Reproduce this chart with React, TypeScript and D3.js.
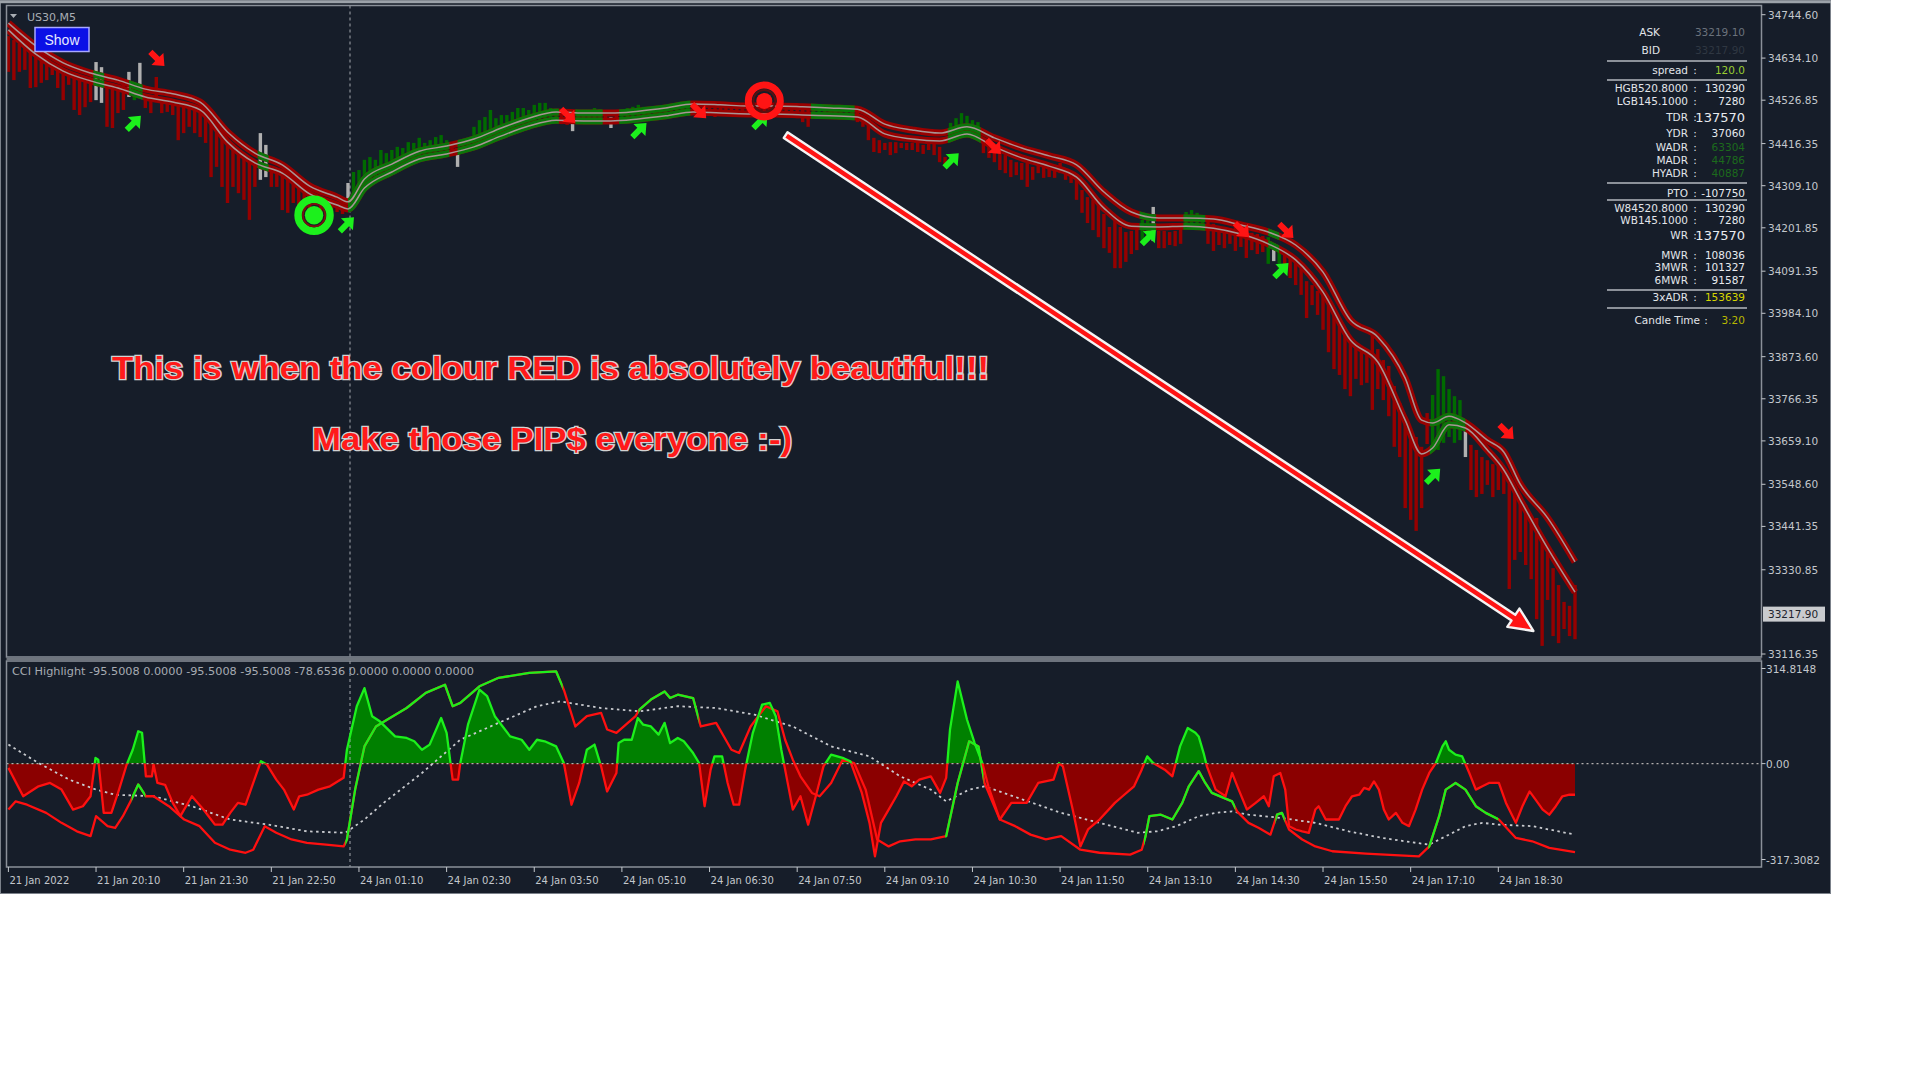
import React from "react";
import * as d3 from "d3";

// ---------------- DATA ----------------
const symbol = "US30,M5";
const priceTicks = [34744.6, 34634.1, 34526.85, 34416.35, 34309.1, 34201.85, 34091.35, 33984.1, 33873.6, 33766.35, 33659.1, 33548.6, 33441.35, 33330.85, 33116.35];
const currentPrice = 33217.9;
const priceDomain = [33116.35, 34744.6];
const cciDomain = [-317.3082, 314.8148];
const cciTickLabels = [
  { v: 314.8148, t: "314.8148" },
  { v: 0, t: "0.00" },
  { v: -317.3082, t: "-317.3082" },
];
const cciTitle = "CCI Highlight -95.5008 0.0000 -95.5008 -95.5008 -78.6536 0.0000 0.0000 0.0000";
const timeLabels = ["21 Jan 2022", "21 Jan 20:10", "21 Jan 21:30", "21 Jan 22:50", "24 Jan 01:10", "24 Jan 02:30", "24 Jan 03:50", "24 Jan 05:10", "24 Jan 06:30", "24 Jan 07:50", "24 Jan 09:10", "24 Jan 10:30", "24 Jan 11:50", "24 Jan 13:10", "24 Jan 14:30", "24 Jan 15:50", "24 Jan 17:10", "24 Jan 18:30"];
const barsPerLabel = 16;
const lastBar = 286;
const weekOpenBar = 62;

const barHigh = [
  34690,34680,34670,34660,34655,34642,34629,34622,34614,34609,
  34604,34599,34594,34588,34583,34578,34624,34611,34568,34563,
  34558,34566,34599,34553,34622,34540,34537,34586,34530,34527,
  34525,34520,34517,34512,34507,34502,34497,34476,34461,34446,
  34425,34413,34400,34390,34380,34369,34443,34413,34359,34354,
  34344,34334,34324,34313,34303,34293,34285,34278,34273,34267,
  34262,34257,34316,34344,34349,34375,34382,34375,34400,34392,
  34400,34408,34405,34420,34418,34431,34418,34425,34433,34438,
  34425,34408,34405,34425,34431,34459,34476,34484,34502,34481,
  34489,34489,34497,34507,34507,34502,34515,34520,34520,34507,
  34502,34502,34497,34487,34494,34502,34502,34507,34504,34492,
  34484,34492,34502,34507,34510,34515,34510,34507,34512,34510,
  34512,34510,34517,34520,34512,34515,34512,34515,34512,34515,
  34512,34510,34512,34515,34510,34512,34510,34512,34515,34510,
  34512,34510,34507,34510,34507,34507,34502,34510,34512,34510,
  34512,34510,34507,34510,34507,34497,34476,34464,34431,34425,
  34418,34420,34420,34418,34418,34418,34418,34413,34418,34418,
  34408,34382,34469,34481,34494,34487,34476,34471,34418,34413,
  34408,34392,34387,34375,34369,34367,34367,34357,34367,34362,
  34367,34357,34367,34349,34341,34324,34298,34280,34273,34260,
  34237,34204,34222,34204,34191,34194,34201,34222,34234,34255,
  34194,34194,34191,34194,34201,34242,34247,34240,34234,34222,
  34212,34206,34204,34201,34204,34199,34194,34189,34186,34181,
  34178,34161,34150,34140,34125,34115,34099,34066,34056,34041,
  34031,34023,33987,33954,33936,33919,33901,33896,33893,33929,
  33893,33865,33850,33799,33756,33722,33687,33669,33644,33730,
  33776,33842,33824,33791,33773,33763,33687,33649,33636,33618,
  33610,33600,33595,33590,33549,33534,33506,33496,33463,33463,
  33419,33376,33335,33292,33249,33239,33292,
];
const barLow = [
  34599,34578,34599,34604,34558,34560,34571,34578,34591,34558,
  34527,34566,34502,34489,34509,34522,34527,34520,34459,34456,
  34494,34502,34535,34527,34560,34507,34494,34527,34494,34497,
  34489,34425,34443,34459,34443,34433,34418,34331,34357,34306,
  34265,34306,34290,34273,34222,34306,34324,34331,34306,34306,
  34247,34240,34265,34255,34247,34234,34260,34242,34257,34247,
  34242,34237,34273,34273,34283,34298,34308,34316,34324,34334,
  34341,34349,34354,34362,34367,34375,34377,34380,34382,34385,
  34387,34387,34357,34397,34400,34405,34410,34415,34423,34428,
  34433,34438,34443,34448,34453,34459,34461,34464,34469,34471,
  34474,34466,34464,34448,34474,34474,34474,34476,34476,34471,
  34456,34471,34479,34479,34481,34481,34481,34484,34484,34487,
  34487,34489,34492,34494,34494,34492,34487,34494,34489,34484,
  34492,34487,34494,34489,34484,34492,34489,34481,34492,34487,
  34494,34484,34489,34487,34481,34471,34459,34481,34484,34487,
  34484,34487,34484,34481,34481,34471,34459,34425,34395,34392,
  34400,34387,34392,34405,34400,34400,34395,34390,34400,34387,
  34369,34362,34425,34431,34438,34441,34441,34436,34392,34380,
  34369,34349,34341,34331,34336,34324,34306,34324,34341,34329,
  34331,34329,34341,34324,34316,34273,34240,34214,34196,34178,
  34150,34138,34099,34099,34115,34135,34145,34168,34171,34168,
  34150,34150,34158,34155,34161,34206,34211,34209,34206,34161,
  34143,34158,34150,34161,34143,34153,34125,34145,34135,34140,
  34110,34117,34099,34089,34074,34056,34031,33972,34005,33980,
  33942,33885,33842,33827,33791,33773,33817,33801,33807,33738,
  33791,33763,33722,33644,33618,33488,33458,33430,33488,33651,
  33636,33636,33654,33669,33654,33661,33618,33534,33516,33524,
  33547,33516,33534,33524,33282,33356,33376,33343,33307,33205,
  33137,33254,33162,33144,33180,33162,33154,
];
const grayBars = [16, 17, 22, 24, 46, 47, 62, 82, 103, 110, 209, 231, 266];
const trendGreen = [[15.5, 17.5], [22, 24.5], [45.5, 47.5], [62, 80.5], [82, 100.5], [103.5, 108.5], [111.5, 124.5], [146.5, 154.5], [171.5, 177.5], [206.5, 209.5], [214.5, 218.5], [230, 232], [259.5, 266]];

const tubeIndex = [0,5,10,15,20,25,30,35,40,45,50,55,60,62,65,70,75,80,85,90,95,100,105,110,115,120,125,130,135,140,145,150,155,160,165,170,175,180,185,190,195,200,205,210,215,220,225,230,235,240,245,250,255,258,260,263,266,270,273,276,281,286];
const tubeUpper = [34723,34665,34622,34596,34578,34555,34543,34522,34446,34392,34362,34308,34280,34268,34326,34364,34397,34410,34428,34456,34481,34497,34494,34494,34499,34507,34517,34515,34512,34512,34510,34507,34504,34466,34451,34443,34459,34431,34405,34385,34362,34293,34242,34227,34227,34224,34209,34191,34158,34089,33967,33924,33819,33712,33705,33722,33705,33661,33631,33549,33463,33351];
const tubeLower = [34706,34644,34601,34576,34558,34535,34522,34502,34420,34367,34341,34288,34260,34250,34303,34344,34377,34390,34408,34436,34461,34476,34474,34474,34479,34487,34497,34494,34492,34492,34489,34487,34484,34441,34428,34423,34441,34408,34380,34359,34331,34252,34206,34204,34206,34201,34186,34161,34120,34038,33916,33860,33712,33626,33641,33700,33692,33636,33585,33509,33386,33274];

const downArrows = [[27.2, 34632], [102.2, 34487], [126.1, 34499], [179.9, 34408], [225.2, 34196], [233.3, 34194], [273.5, 33682]];
const upArrows = [[22.9, 34469], [61.8, 34211], [115.2, 34451], [137.3, 34474], [172.2, 34374], [208.2, 34178], [232.4, 34094], [260.1, 33570]];
const buyCircle = [55.8, 34234];
const sellCircle = [138, 34525];
const bigArrow = { from: [141.9, 34438], to: [278.4, 33175] };
const note1 = "This is when the colour RED is absolutely beautiful!!!";
const note2 = "Make those PIP$ everyone :-)";

const cciFast = [[0,-14],[2.7,-108],[5.5,-75],[7.6,-64],[9.7,-86],[11.8,-152],[13.6,-141],[15,-108],[15.9,19],[16.4,13],[17.4,-163],[18.8,-163],[20.2,-86],[21.6,-3],[22.7,46],[23.7,107],[24.4,102],[25.1,-42],[26.2,-42],[26.5,-3],[27.2,-64],[28.6,-70],[30,-130],[31.4,-174],[33.5,-108],[35.6,-152],[37.7,-202],[39.1,-202],[40.5,-163],[41.9,-130],[43.3,-136],[44.7,-64],[46.1,8],[47.2,-3],[48.9,-53],[50.3,-86],[52.1,-152],[53.1,-108],[54.5,-103],[56.6,-86],[58.7,-75],[61.2,-47],[61.8,46],[63.6,190],[65,250],[66.4,157],[67.8,140],[70.6,90],[72.7,85],[74.1,74],[75.5,46],[76.9,63],[79,151],[80,102],[81.1,-53],[82.1,-53],[82.5,2],[83.9,129],[86,245],[87.4,223],[88.8,157],[91.6,90],[93.7,79],[95.1,46],[96.5,79],[97.9,74],[100,57],[101.4,2],[102.8,-136],[104.2,-64],[105.6,46],[107,63],[108.2,-9],[109.3,-92],[111,-31],[111.4,68],[112.4,79],[113.8,79],[114.9,151],[115.9,129],[117.3,123],[118.7,96],[119.8,135],[120.8,68],[122.2,85],[123.3,74],[125,35],[126.1,2],[127.1,-141],[128.2,-20],[128.9,24],[130.3,24],[131.3,-64],[132.4,-136],[133.4,-136],[134.5,-20],[135.9,102],[137.6,195],[139,201],[140.1,157],[141.1,46],[142.5,-86],[143.2,-152],[144.6,-108],[146,-202],[147.4,-108],[148.8,-9],[150.2,30],[152.3,19],[153.7,8],[155.8,-97],[157.2,-196],[158.2,-307],[159.3,-196],[160.7,-152],[162.1,-108],[163.5,-59],[164.9,-75],[166.3,-53],[168.4,-42],[170.1,-97],[171.2,-47],[171.9,113],[173.3,272],[175,146],[176.4,68],[177.8,2],[178.9,-75],[181,-185],[183.1,-130],[185.9,-130],[188,-64],[190.8,-53],[191.8,2],[192.5,-9],[194.3,-152],[195.7,-274],[197.1,-218],[199.2,-185],[202,-130],[203.4,-108],[205.5,-75],[206.9,-20],[207.9,24],[209,2],[211.1,-20],[212.5,-42],[213.9,57],[215.3,118],[216.7,102],[217.3,90],[218.2,35],[218.8,-9],[220.4,-86],[222.2,-108],[223.4,-31],[224.6,-86],[226.1,-152],[227.7,-130],[229.2,-108],[230.1,-141],[231,-42],[232.2,-31],[233.1,-86],[233.8,-207],[235,-218],[236.2,-224],[237.4,-229],[238.6,-152],[239.2,-141],[240.5,-185],[242.9,-185],[244.1,-141],[245.3,-108],[246.6,-103],[247.5,-80],[248.4,-86],[249.3,-59],[250.2,-86],[251.1,-152],[252,-185],[253.3,-163],[254.5,-196],[255.7,-207],[256.9,-152],[258.1,-86],[259.4,-31],[260.6,2],[261.8,57],[262.4,74],[263,46],[264.2,30],[265.4,24],[266.7,-31],[267.9,-86],[269.1,-75],[270.3,-64],[272.1,-64],[273.4,-130],[274.6,-174],[275.2,-196],[276.4,-141],[277.7,-92],[278.8,-119],[280.1,-152],[281.3,-169],[282.5,-141],[283.7,-108],[285,-103],[286,-103]];
const cciSlow = [[0,-152],[1.3,-125],[3.4,-136],[6.9,-163],[9.7,-196],[12.5,-224],[15,-240],[16,-174],[18.1,-207],[19.5,-213],[20.9,-174],[22.3,-125],[23.7,-69],[25.1,-108],[26.5,-108],[29.3,-141],[32.1,-185],[34.9,-207],[37.7,-262],[40.5,-285],[43.3,-295],[44.7,-285],[46.8,-207],[48.9,-229],[51.7,-251],[54.5,-262],[58,-268],[61.2,-274],[61.8,-251],[63.3,-86],[65,57],[67.1,123],[69.2,146],[72.7,184],[76.2,234],[79.7,261],[81.1,190],[82.5,201],[86,256],[89.5,284],[95.1,300],[100,305],[101.4,245],[103.5,123],[105.6,157],[108.2,168],[109.3,113],[111,102],[114.5,157],[115.2,179],[117.3,212],[119.8,239],[120.8,217],[122.2,228],[125,217],[126.4,123],[129.2,135],[132,46],[133.4,35],[135.5,123],[136.9,157],[138.3,190],[140.4,173],[141.8,79],[143.2,13],[144.6,-42],[146.7,-97],[148.1,-108],[150.2,-64],[152.3,13],[154.4,2],[156.5,-86],[158.6,-251],[160.7,-274],[162.8,-257],[165.6,-251],[168.4,-251],[171.2,-240],[173.3,-64],[175.4,74],[177.1,57],[178.2,-64],[181,-185],[183.8,-207],[186.6,-235],[189.4,-251],[192.2,-240],[195.7,-285],[199.2,-295],[204.8,-301],[206.9,-285],[207.6,-240],[208.3,-174],[210.4,-169],[212.5,-185],[214.3,-130],[215.5,-75],[217.3,-25],[218.5,-64],[219.7,-97],[223.4,-125],[224.3,-158],[226.4,-196],[228.3,-213],[230.4,-235],[231.6,-169],[232.5,-163],[233.8,-218],[236.2,-251],[238.6,-274],[241.7,-290],[247.8,-298],[257.5,-307],[259.4,-274],[261.2,-174],[262.4,-86],[264.2,-64],[266,-86],[267.9,-141],[269.7,-163],[272.1,-185],[275.2,-246],[278.2,-257],[281.3,-279],[286,-293]];
const cciSignal = [[0,63],[5.5,2],[11.1,-53],[16,-86],[19.5,-103],[26.5,-108],[33.5,-141],[40.5,-185],[47.5,-202],[54.5,-224],[61.5,-229],[65,-185],[68.5,-130],[75.5,-31],[82.5,79],[89.5,135],[96.5,190],[100.7,206],[108.2,184],[115.2,173],[122.2,190],[129.2,184],[136.2,162],[143.2,123],[150.2,57],[157.2,24],[162.8,-42],[168.4,-86],[171.2,-125],[175.4,-86],[178.2,-75],[185.2,-119],[192.2,-163],[199.2,-196],[206.2,-229],[209.7,-224],[213.2,-207],[217.3,-174],[220.4,-163],[223.4,-158],[226.4,-169],[232.5,-180],[238.6,-196],[244.7,-224],[250.8,-246],[256.9,-262],[259.4,-268],[263,-235],[266,-207],[269.1,-196],[272.1,-202],[278.2,-207],[286,-235]];
const slowGreen = [[22.5, 25], [61.5, 101.2], [115, 126], [171, 178], [207.3, 224], [231.3, 233], [259.2, 272]];

// info panel rows (text as it appears in the terminal's overlay)
const infoRows = [
  { label: "ASK", value: "33219.10", vc: "#6b727c", noColon: true },
  { label: "BID", value: "33217.90", vc: "#2f3742", noColon: true },
  { label: "spread", value: "120.0", vc: "#9acd32" },
  { label: "HGB520.8000", value: "130290" },
  { label: "LGB145.1000", value: "7280" },
  { label: "TDR", value: "137570", big: true },
  { label: "YDR", value: "37060" },
  { label: "WADR", value: "63304", vc: "#1c6a1c" },
  { label: "MADR", value: "44786", vc: "#1c6a1c" },
  { label: "HYADR", value: "40887", vc: "#1c6a1c" },
  { label: "PTO", value: "-107750" },
  { label: "W84520.8000", value: "130290" },
  { label: "WB145.1000", value: "7280" },
  { label: "WR", value: "137570", big: true },
  { label: "MWR", value: "108036" },
  { label: "3MWR", value: "101327" },
  { label: "6MWR", value: "91587" },
  { label: "3xADR", value: "153639", vc: "#d6d600" },
  { label: "Candle Time", value: "3:20", vc: "#b8b800" },
];
// layout (pixel rows) of the info panel
const infoRowY = [32, 50, 70, 88, 101, 117, 133, 147, 160, 173, 193, 208, 220, 235, 255, 267, 280, 297, 320];
const infoSepY = [61, 80, 183, 200, 290, 308];

// ---------------- COMPONENT ----------------
const BG = "#161d29";
const FRAME = "#8a9099";
const FONT = "'DejaVu Sans', 'Noto Sans', sans-serif";

function inRanges(i: number, ranges: number[][]) {
  return ranges.some(([a, b]) => i >= a && i <= b);
}

export default function App() {
  const x = d3.scaleLinear().domain([0, lastBar]).range([8.4, 1575]);
  const y = d3.scaleLinear().domain(priceDomain).range([654, 14.7]);
  const yc = d3.scaleLinear().domain(cciDomain).range([859.5, 668.5]);

  const mainL = 6.5, mainR = 1761.5, mainT = 5.5, mainB = 657;
  const cciT = 661, cciB = 867;
  const zeroY = yc(0);

  const tubePath = (vals: number[]) =>
    d3.line<number>().x((_, k) => x(tubeIndex[k])).y((v) => y(v)).curve(d3.curveMonotoneX)(vals) as string;

  const cciLine = d3.line<number[]>().x((d) => x(d[0])).y((d) => yc(d[1]));
  const cciArea = d3.area<number[]>().x((d) => x(d[0])).y0(zeroY).y1((d) => yc(d[1]));

  const arrowShape = "M-10,-3 L0,-3 L0,-8.5 L10,0 L0,8.5 L0,3 L-10,3 Z";

  // big arrow polygon
  const ax0 = x(bigArrow.from[0]), ay0 = y(bigArrow.from[1]);
  const ax1 = x(bigArrow.to[0]), ay1 = y(bigArrow.to[1]);
  const dx = ax1 - ax0, dy = ay1 - ay0, len = Math.hypot(dx, dy);
  const ux = dx / len, uy = dy / len, nx = -uy, ny = ux;
  const sw = 3.4, hl = 24, hw = 11;
  const bx = ax1 - ux * hl, by = ay1 - uy * hl;
  const bigPts = [
    [ax0 + nx * sw, ay0 + ny * sw], [bx + nx * sw, by + ny * sw], [bx + nx * hw, by + ny * hw],
    [ax1, ay1], [bx - nx * hw, by - ny * hw], [bx - nx * sw, by - ny * sw], [ax0 - nx * sw, ay0 - ny * sw],
  ].map((p) => p.join(",")).join(" ");

  const bars = barHigh.map((h, i) => {
    const l = barLow[i];
    const color = grayBars.includes(i) ? "#b0b0b0" : inRanges(i, trendGreen) ? "#006b00" : "#960000";
    return { i, h, l, color };
  });

  const labelX = 1688, colonX = 1695, valueX = 1745;

  return (
    <div style={{ position: "absolute", left: 0, top: 0 }}>
      <svg width={1920} height={1080} style={{ display: "block", background: "#ffffff" }}>
        <defs>
          <clipPath id="mainClip"><rect x={mainL} y={mainT} width={mainR - mainL} height={mainB - mainT} /></clipPath>
          <clipPath id="cciClip"><rect x={mainL} y={cciT} width={mainR - mainL} height={cciB - cciT} /></clipPath>
          <clipPath id="trendG">
            {trendGreen.map(([a, b], k) => (
              <rect key={k} x={x(a)} y={0} width={x(b) - x(a)} height={660} />
            ))}
          </clipPath>
          <clipPath id="slowG">
            {slowGreen.map(([a, b], k) => (
              <rect key={k} x={x(a)} y={cciT} width={x(b) - x(a)} height={cciB - cciT} />
            ))}
          </clipPath>
          <clipPath id="cciAbove"><rect x={mainL} y={cciT} width={mainR - mainL} height={zeroY - cciT} /></clipPath>
          <clipPath id="cciBelow"><rect x={mainL} y={zeroY} width={mainR - mainL} height={cciB - zeroY} /></clipPath>
        </defs>

        {/* background panel */}
        <rect x={0.5} y={0.5} width={1830} height={893} fill={BG} stroke="#7b818a" strokeWidth={1} />
        <line x1={0} x2={1831} y1={2} y2={2} stroke="#9ca2a9" strokeWidth={2.5} />

        {/* ===== MAIN PANE ===== */}
        <g clipPath="url(#mainClip)">
          {/* period separator */}
          <line x1={x(weekOpenBar) + 2} x2={x(weekOpenBar) + 2} y1={mainT} y2={mainB} stroke="#a3a8ae" strokeDasharray="3,3" strokeWidth={1} />
          {/* bars */}
          {bars.map((b) => (
            <rect key={b.i} x={x(b.i) - 1.7} y={y(b.h)} width={3.4} height={Math.max(1.5, y(b.l) - y(b.h))} fill={b.color} />
          ))}
          {/* tubes */}
          {[tubeUpper, tubeLower].map((vals, k) => (
            <g key={k}>
              <path d={tubePath(vals)} fill="none" stroke="#9a0000" strokeWidth={7} strokeLinejoin="round" />
              <path d={tubePath(vals)} fill="none" stroke="#0a760a" strokeWidth={7} clipPath="url(#trendG)" />
            </g>
          ))}
          {[tubeUpper, tubeLower].map((vals, k) => (
            <path key={"c" + k} d={tubePath(vals)} fill="none" stroke="#a89494" strokeWidth={1.5} />
          ))}
          {/* signal arrows */}
          {downArrows.map((a, k) => (
            <path key={"d" + k} d={arrowShape} fill="#ff1414" transform={`translate(${x(a[0])},${y(a[1])}) rotate(45)`} />
          ))}
          {upArrows.map((a, k) => (
            <path key={"u" + k} d={arrowShape} fill="#1cf01c" transform={`translate(${x(a[0])},${y(a[1])}) rotate(-45)`} />
          ))}
          {/* circles */}
          <g transform={`translate(${x(buyCircle[0])},${y(buyCircle[1])})`}>
            <circle r={16} fill="none" stroke="#1cf01c" strokeWidth={7.5} />
            <circle r={11.2} fill="none" stroke="#7a1010" strokeWidth={1.6} />
            <circle r={9.2} fill="#1cf01c" />
          </g>
          <g transform={`translate(${x(sellCircle[0])},${y(sellCircle[1])})`}>
            <circle r={16} fill="none" stroke="#ff1414" strokeWidth={7} />
            <circle r={11} fill="none" stroke="#5a1010" strokeWidth={2} />
            <circle r={8} fill="#ff1414" />
          </g>
          {/* big arrow */}
          <polygon points={bigPts} fill="#ff1414" stroke="#f4f4f4" strokeWidth={2.4} strokeLinejoin="round" />
          {/* annotations */}
          <g fontFamily="'Liberation Sans', Arial, sans-serif" fontWeight="bold" fontSize={32} fill="#ff1a1a" stroke="#d2d2d2" strokeWidth={2.6} style={{ paintOrder: "stroke" }}>
            <text x={112} y={379} textLength={877} lengthAdjust="spacingAndGlyphs">{note1}</text>
            <text x={312} y={450} textLength={480} lengthAdjust="spacingAndGlyphs">{note2}</text>
          </g>
        </g>
        <rect x={mainL} y={mainT} width={mainR - mainL} height={mainB - mainT} fill="none" stroke={FRAME} strokeWidth={1.5} />

        {/* top-left symbol + show button */}
        <path d="M10,14 L17,14 L13.5,18 Z" fill="#a9aeb4" />
        <text x={27} y={21} fontFamily={FONT} fontSize={11} fill="#a9aeb4">{symbol}</text>
        <rect x={35} y={27.5} width={54} height={24} fill="#0b10e6" stroke="#a8a8ff" strokeWidth={1.5} />
        <text x={62} y={44.5} textAnchor="middle" fontFamily="'Liberation Sans', Arial, sans-serif" fontSize={14} fill="#e6e8ff">Show</text>

        {/* info panel */}
        <g fontFamily={FONT} fontSize={10.5} fill="#e2e5ea">
          {infoSepY.map((sy, k) => (
            <line key={k} x1={1607} x2={1747} y1={sy} y2={sy} stroke="#b5b9bf" strokeWidth={1.6} />
          ))}
          {infoRows.map((r, k) => {
            const ry = infoRowY[k] + 4;
            const isCandle = r.label === "Candle Time";
            if (r.noColon) {
              return (
                <g key={k}>
                  <text x={1660} y={ry} textAnchor="end">{r.label}</text>
                  <text x={valueX} y={ry} textAnchor="end" fill={r.vc}>{r.value}</text>
                </g>
              );
            }
            return (
              <g key={k}>
                <text x={isCandle ? 1700 : labelX} y={ry} textAnchor="end">{r.label}</text>
                <text x={isCandle ? 1706 : colonX} y={ry} textAnchor="middle">:</text>
                <text x={valueX} y={ry + (r.big ? 1 : 0)} textAnchor="end" fill={r.vc || "#e8ebef"} fontSize={r.big ? 13 : 10.5}>{r.value}</text>
              </g>
            );
          })}
        </g>

        {/* price axis */}
        <g fontFamily={FONT} fontSize={10.5} fill="#c3c7cc">
          {priceTicks.map((v) => (
            <g key={v}>
              <line x1={mainR} x2={mainR + 4} y1={y(v)} y2={y(v)} stroke="#c3c7cc" />
              <text x={1768} y={y(v) + 4}>{v.toFixed(2)}</text>
            </g>
          ))}
          <rect x={1763} y={y(currentPrice) - 7.5} width={62} height={15} fill="#c9cbce" />
          <text x={1768} y={y(currentPrice) + 4} fill="#1d232c">{currentPrice.toFixed(2)}</text>
        </g>

        {/* ===== CCI PANE ===== */}
        <g clipPath="url(#cciClip)">
          <path d={cciArea(cciFast) as string} fill="#008000" clipPath="url(#cciAbove)" />
          <path d={cciArea(cciFast) as string} fill="#8b0000" clipPath="url(#cciBelow)" />
          <line x1={mainL} x2={mainR} y1={zeroY} y2={zeroY} stroke="#b3b0b0" strokeWidth={1.3} strokeDasharray="2,3" />
          <line x1={x(weekOpenBar) + 2} x2={x(weekOpenBar) + 2} y1={cciT} y2={cciB} stroke="#a3a8ae" strokeDasharray="3,3" strokeWidth={1} />
          <path d={cciLine(cciSignal) as string} fill="none" stroke="#c9cbcf" strokeWidth={1.8} strokeDasharray="2.5,3.5" />
          <path d={cciLine(cciSlow) as string} fill="none" stroke="#ff1010" strokeWidth={2.3} strokeLinejoin="round" />
          <path d={cciLine(cciSlow) as string} fill="none" stroke="#1cf01c" strokeWidth={2.3} strokeLinejoin="round" clipPath="url(#slowG)" />
          <path d={cciLine(cciFast) as string} fill="none" stroke="#1cf01c" strokeWidth={2.3} strokeLinejoin="round" clipPath="url(#cciAbove)" />
          <path d={cciLine(cciFast) as string} fill="none" stroke="#ff1010" strokeWidth={2.3} strokeLinejoin="round" clipPath="url(#cciBelow)" />
        </g>
        <rect x={mainL} y={cciT} width={mainR - mainL} height={cciB - cciT} fill="none" stroke={FRAME} strokeWidth={1.5} />
        <line x1={mainL} x2={mainR} y1={659} y2={659} stroke="#6f757d" strokeWidth={2} />
        <text x={12} y={675} fontFamily={FONT} fontSize={10} fill="#a6abb2" textLength={462} lengthAdjust="spacingAndGlyphs">{cciTitle}</text>
        <g fontFamily={FONT} fontSize={10.5} fill="#c3c7cc">
          {cciTickLabels.map((c) => (
            <g key={c.t}>
              <line x1={mainR} x2={mainR + 4} y1={yc(c.v)} y2={yc(c.v)} stroke="#c3c7cc" />
              <text x={1766} y={yc(c.v) + 4}>{c.t}</text>
            </g>
          ))}
        </g>

        {/* time axis */}
        <g fontFamily={FONT} fontSize={10} fill="#c3c7cc">
          {timeLabels.map((t, k) => {
            const tx = x(k * barsPerLabel);
            return (
              <g key={t}>
                <line x1={tx} x2={tx} y1={cciB} y2={cciB + 5} stroke="#c3c7cc" />
                <text x={tx + 1} y={884}>{t}</text>
              </g>
            );
          })}
        </g>
      </svg>
    </div>
  );
}
